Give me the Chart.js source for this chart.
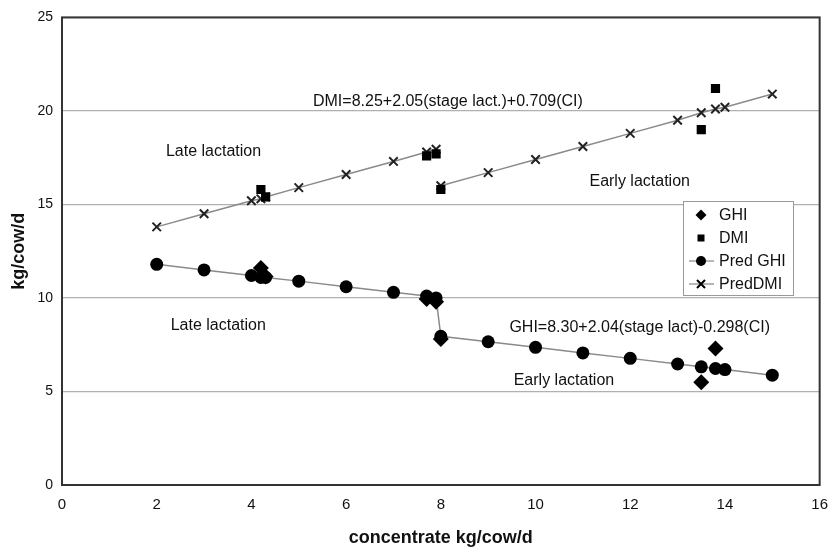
<!DOCTYPE html>
<html>
<head>
<meta charset="utf-8">
<script src="https://cdn.jsdelivr.net/npm/chart.js@4"></script>
<style>
  body { margin: 0; background: #fff; }
  #wrap { width: 834px; height: 549px; position: relative; }
</style>
</head>
<body>
<div id="wrap"><canvas id="myChart"></canvas></div>
<script>
// observed values
var obsX = [4.2, 4.3, 7.7, 7.9, 8.0, 13.5, 13.8];
var ghiObs = [11.6, 11.15, 9.95, 9.8, 7.8, 5.5, 7.3];
var dmiObs = [15.8, 15.4, 17.6, 17.7, 15.8, 19.0, 21.2];

// predicted values (late lactation then early lactation)
var predX = [2, 3, 4, 4.2, 4.3, 5, 6, 7, 7.7, 7.9, 8, 9, 10, 11, 12, 13, 13.5, 13.8, 14, 15];
var predGhi = [11.8, 11.5, 11.2, 11.1, 11.1, 10.9, 10.6, 10.3, 10.1, 10.0,
               7.95, 7.66, 7.36, 7.06, 6.77, 6.47, 6.32, 6.23, 6.17, 5.87];
var predDmi = [13.8, 14.5, 15.2, 15.3, 15.4, 15.9, 16.6, 17.3, 17.8, 17.95,
               16.0, 16.7, 17.4, 18.1, 18.8, 19.5, 19.9, 20.1, 20.2, 20.9];

var yTicks = [0, 5, 10, 15, 20, 25];
var xTicks = [0, 2, 4, 6, 8, 10, 12, 14, 16];

var notes = [
  { x: 8.15, y: 20.5, text: "DMI=8.25+2.05(stage lact.)+0.709(CI)" },
  { x: 3.2, y: 17.8, text: "Late lactation" },
  { x: 12.2, y: 16.2, text: "Early lactation" },
  { x: 3.3, y: 8.5, text: "Late lactation" },
  { x: 12.2, y: 8.4, text: "GHI=8.30+2.04(stage lact)-0.298(CI)" },
  { x: 10.6, y: 5.6, text: "Early lactation" }
];

function pts(xs, ys) {
  var out = [];
  for (var i = 0; i < xs.length; i++) out.push({ x: xs[i], y: ys[i] });
  return out;
}

// break the DMI line between late and early lactation
var predDmiPts = pts(predX, predDmi);
predDmiPts.splice(10, 0, { x: 7.95, y: null });

var FONT = "'Liberation Sans', Arial, sans-serif";

var extras = {
  id: 'extras',
  beforeDatasetsDraw: function(chart) {
    var ctx = chart.ctx, a = chart.chartArea;
    ctx.save();
    ctx.strokeStyle = '#333';
    ctx.lineWidth = 2;
    ctx.strokeRect(a.left, a.top, a.right - a.left, a.bottom - a.top);
    ctx.restore();
  },
  afterDraw: function(chart) {
    var ctx = chart.ctx;
    var xs = chart.scales.x, ys = chart.scales.y;
    ctx.save();
    ctx.fillStyle = '#111';
    ctx.font = '16px ' + FONT;
    ctx.textAlign = 'center';
    ctx.textBaseline = 'middle';
    notes.forEach(function(n) {
      ctx.fillText(n.text, xs.getPixelForValue(n.x), ys.getPixelForValue(n.y));
    });

    // legend box
    var lx = 683, ly = 201, lw = 110, lh = 94;
    ctx.fillStyle = '#fff';
    ctx.fillRect(lx, ly, lw, lh);
    ctx.strokeStyle = '#999';
    ctx.lineWidth = 1;
    ctx.strokeRect(lx + 0.5, ly + 0.5, lw, lh);
    var rows = [
      { label: 'GHI', style: 'diamond', line: false },
      { label: 'DMI', style: 'square', line: false },
      { label: 'Pred GHI', style: 'circle', line: true },
      { label: 'PredDMI', style: 'cross', line: true }
    ];
    ctx.textAlign = 'left';
    rows.forEach(function(r, i) {
      var cy = ly + 14 + i * 23;
      var cx = lx + 18;
      if (r.line) {
        ctx.strokeStyle = '#888';
        ctx.lineWidth = 1.2;
        ctx.beginPath();
        ctx.moveTo(lx + 6, cy); ctx.lineTo(lx + 31, cy);
        ctx.stroke();
      }
      ctx.fillStyle = '#000';
      ctx.strokeStyle = '#000';
      ctx.beginPath();
      if (r.style === 'diamond') {
        ctx.moveTo(cx, cy - 5.5); ctx.lineTo(cx + 5.5, cy); ctx.lineTo(cx, cy + 5.5); ctx.lineTo(cx - 5.5, cy);
        ctx.closePath(); ctx.fill();
      } else if (r.style === 'square') {
        ctx.fillRect(cx - 3.5, cy - 3.5, 7, 7);
      } else if (r.style === 'circle') {
        ctx.arc(cx, cy, 5, 0, Math.PI * 2); ctx.fill();
      } else {
        ctx.lineWidth = 2;
        ctx.moveTo(cx - 4, cy - 4); ctx.lineTo(cx + 4, cy + 4);
        ctx.moveTo(cx + 4, cy - 4); ctx.lineTo(cx - 4, cy + 4);
        ctx.stroke();
      }
      ctx.fillStyle = '#111';
      ctx.font = '16px ' + FONT;
      ctx.fillText(r.label, lx + 36, cy + 1);
    });
    ctx.restore();
  }
};

var ctx = document.getElementById('myChart');

var myChart = new Chart(ctx, {
  type: 'scatter',
  data: {
    datasets: [
      {
        label: 'PredDMI',
        data: predDmiPts,
        showLine: true,
        spanGaps: false,
        borderColor: '#8a8a8a',
        borderWidth: 1.5,
        pointStyle: 'crossRot',
        pointRadius: 6,
        pointBorderColor: '#222',
        pointBorderWidth: 2,
        order: 4
      },
      {
        label: 'Pred GHI',
        data: pts(predX, predGhi),
        showLine: true,
        borderColor: '#8a8a8a',
        borderWidth: 1.5,
        pointStyle: 'circle',
        pointRadius: 6.5,
        pointBackgroundColor: '#000',
        pointBorderColor: '#000',
        pointBorderWidth: 0,
        order: 3
      },
      {
        label: 'DMI',
        data: pts(obsX, dmiObs),
        pointStyle: 'rect',
        pointRadius: 6.5,
        pointBackgroundColor: '#000',
        pointBorderColor: '#000',
        pointBorderWidth: 0,
        order: 2
      },
      {
        label: 'GHI',
        data: pts(obsX, ghiObs),
        pointStyle: 'rectRot',
        pointRadius: 8,
        pointBackgroundColor: '#000',
        pointBorderColor: '#000',
        pointBorderWidth: 0,
        order: 1
      }
    ]
  },
  options: {
    responsive: true,
    maintainAspectRatio: false,
    animation: false,
    layout: { padding: { top: 16, right: 13, left: 0, bottom: 0 } },
    plugins: {
      legend: { display: false },
      tooltip: { enabled: false }
    },
    scales: {
      x: {
        type: 'linear',
        min: 0,
        max: 16,
        afterBuildTicks: function(s) { s.ticks = xTicks.map(function(v) { return { value: v }; }); },
        grid: { display: false, drawOnChartArea: false, drawTicks: true, tickLength: 5, tickColor: '#777' },
        border: { display: false },
        ticks: { color: '#111', font: { family: FONT, size: 15 }, padding: 6, maxRotation: 0 },
        title: { display: true, text: 'concentrate kg/cow/d', color: '#111', font: { family: FONT, size: 18, weight: 'bold' }, padding: { top: 8, bottom: 0 } },
        afterFit: function(s) { s.height = 64; }
      },
      y: {
        min: 0,
        max: 25,
        afterBuildTicks: function(s) { s.ticks = yTicks.map(function(v) { return { value: v }; }); },
        grid: { color: '#b0b0b0', lineWidth: 1.2, drawTicks: false },
        border: { display: false },
        ticks: { color: '#111', font: { family: FONT, size: 14 }, padding: 9 },
        title: { display: true, text: 'kg/cow/d', color: '#111', font: { family: FONT, size: 18, weight: 'bold' }, padding: { top: 8, bottom: 0 } },
        afterFit: function(s) { s.width = 62; }
      }
    }
  },
  plugins: [extras]
});
</script>
</body>
</html>
